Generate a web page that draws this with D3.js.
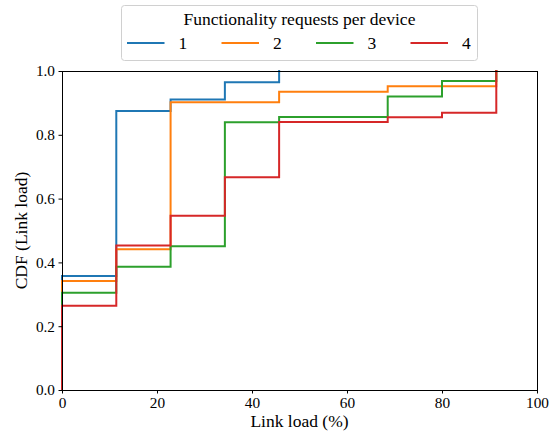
<!DOCTYPE html>
<html>
<head>
<meta charset="utf-8">
<script src="https://cdn.jsdelivr.net/npm/d3@7"></script>
<style>
  html, body { margin: 0; padding: 0; background: #fff; }
  svg { display: block; }
  text { font-family: "Liberation Serif", "Times New Roman", serif; fill: #000; }
</style>
</head>
<body>
<svg id="chart" width="557" height="432"></svg>
<script>
// Step positions (link load %) and CDF levels for each group
const seriesNames = ["1", "2", "3", "4"];
const seriesColors = ["#1f77b4", "#ff7f0e", "#2ca02c", "#d62728"];

const load1 = [0, 11.43, 22.86, 34.29, 45.71];
const cdf1  = [0.357, 0.875, 0.911, 0.965, 1.0];

const load2 = [0, 11.43, 22.86, 45.71, 68.57, 91.43];
const cdf2  = [0.342, 0.441, 0.902, 0.935, 0.952, 1.0];

const load3 = [0, 11.43, 22.86, 34.29, 45.71, 68.57, 80, 91.43];
const cdf3  = [0.305, 0.386, 0.451, 0.839, 0.856, 0.920, 0.969, 1.0];

const load4 = [0, 11.43, 22.86, 34.29, 45.71, 68.57, 80, 91.43];
const cdf4  = [0.264, 0.453, 0.546, 0.667, 0.840, 0.855, 0.869, 1.0];

const xTicks = [0, 20, 40, 60, 80, 100];
const yTicks = [0.0, 0.2, 0.4, 0.6, 0.8, 1.0];

const legendTitle = "Functionality requests per device";
const xLabel = "Link load (%)";
const yLabel = "CDF (Link load)";

const serif = '"Liberation Serif", "Times New Roman", serif';

const svg = d3.select("#chart");
const margin = { left: 62, right: 20, top: 71, bottom: 42 };
const W = 557, H = 432;

const x = d3.scaleLinear().domain([0, 100]).range([margin.left, W - margin.right]);
const y = d3.scaleLinear().domain([0, 1]).range([H - margin.bottom, margin.top]);

const series = [
  { name: seriesNames[0], color: seriesColors[0], xs: load1, ys: cdf1 },
  { name: seriesNames[1], color: seriesColors[1], xs: load2, ys: cdf2 },
  { name: seriesNames[2], color: seriesColors[2], xs: load3, ys: cdf3 },
  { name: seriesNames[3], color: seriesColors[3], xs: load4, ys: cdf4 }
];

// ECDF drawn as a step curve starting from zero at the first sample
const line = d3.line()
  .x(d => x(d[0]))
  .y(d => y(d[1]))
  .curve(d3.curveStepAfter);

const plot = svg.append("g");
series.forEach(s => {
  const pts = [[s.xs[0], 0]].concat(s.xs.map((v, i) => [v, s.ys[i]]));
  plot.append("path")
    .attr("d", line(pts))
    .attr("fill", "none")
    .attr("stroke", s.color)
    .attr("stroke-width", 2)
    .attr("stroke-linejoin", "miter")
    .attr("stroke-linecap", "square");
});

// Axes
const xAxis = svg.append("g")
  .attr("transform", `translate(0,${y(0)})`)
  .call(d3.axisBottom(x).tickValues(xTicks).tickFormat(d3.format("d")).tickSize(3.5).tickPadding(3.5));
const yAxis = svg.append("g")
  .attr("transform", `translate(${x(0)},0)`)
  .call(d3.axisLeft(y).tickValues(yTicks).tickFormat(d3.format(".1f")).tickSize(3.5).tickPadding(3.5));

[xAxis, yAxis].forEach(a => {
  a.attr("font-family", serif).attr("font-size", 15.3);
  a.select(".domain").remove();
  a.selectAll(".tick line").attr("stroke", "#000").attr("stroke-width", 1);
  a.selectAll(".tick text").attr("fill", "#000");
});

// Frame
svg.append("rect")
  .attr("x", x(0)).attr("y", y(1))
  .attr("width", x(100) - x(0)).attr("height", y(0) - y(1))
  .attr("fill", "none").attr("stroke", "#000").attr("stroke-width", 1)
  .attr("shape-rendering", "crispEdges");

// Axis labels
svg.append("text")
  .attr("x", (x(0) + x(100)) / 2).attr("y", 427)
  .attr("text-anchor", "middle")
  .style("font-size", "17.5px")
  .text(xLabel);

svg.append("text")
  .attr("transform", `translate(27,${(y(0) + y(1)) / 2}) rotate(-90)`)
  .attr("text-anchor", "middle")
  .style("font-size", "17.5px")
  .text(yLabel);

// Legend above the plot
const lg = svg.append("g");
lg.append("rect")
  .attr("x", 121.5).attr("y", 5.5)
  .attr("width", 356).attr("height", 55)
  .attr("rx", 3).attr("ry", 3)
  .attr("fill", "#fff").attr("fill-opacity", 0.8)
  .attr("stroke", "#d0d0d0").attr("stroke-width", 1);

lg.append("text")
  .attr("x", (x(0) + x(100)) / 2).attr("y", 25)
  .attr("text-anchor", "middle")
  .style("font-size", "17.5px")
  .text(legendTitle);

const colX = d3.scaleLinear().domain([0, 1]).range([127, 221.5]);
series.forEach((s, i) => {
  const x0 = colX(i);
  lg.append("line")
    .attr("x1", x0).attr("x2", x0 + 37.5)
    .attr("y1", 43).attr("y2", 43)
    .attr("stroke", s.color).attr("stroke-width", 2);
  lg.append("text")
    .attr("x", x0 + 51.5).attr("y", 49)
    .style("font-size", "17.5px")
    .text(s.name);
});
</script>
</body>
</html>
